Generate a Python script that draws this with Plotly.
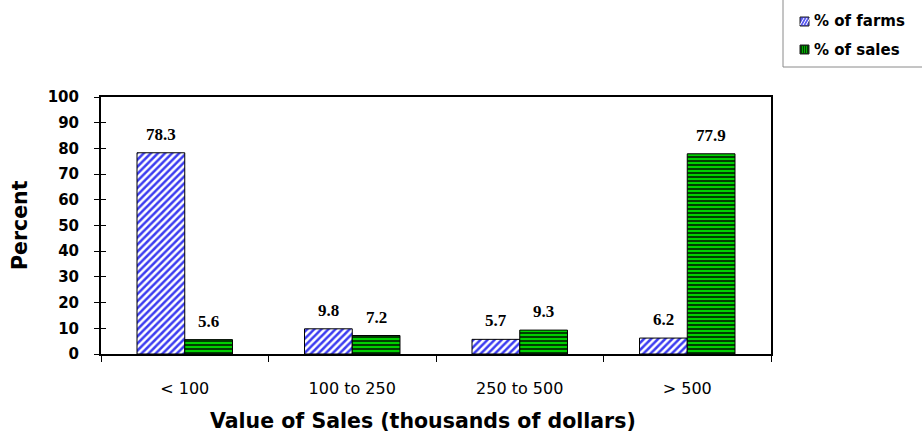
import plotly.graph_objects as go

# Farm size classes by value of sales
categories = ["< 100", "100 to 250", "250 to 500", "> 500"]
pct_farms = [78.3, 9.8, 5.7, 6.2]
pct_sales = [5.6, 7.2, 9.3, 77.9]
series_names = ["% of farms", "% of sales"]
y_ticks = [0, 10, 20, 30, 40, 50, 60, 70, 80, 90, 100]

BAR_GAP = 0.43
bar_w = (1 - BAR_GAP) / 2

# plot box in pixels (page is 922 x 440)
L, R, T, B = 101, 771, 97, 354
W_PLOT, H_PLOT = R - L, B - T


def px_x(px):
    return (px - L) / W_PLOT


def px_y(py):
    return (B - py) / H_PLOT


AXIS_FONT = "DejaVu Sans, Verdana, sans-serif"
LABEL_FONT = "Liberation Serif, Times New Roman, serif"

BLUE = "#3c3cf0"
GREEN_LIGHT = "#00e000"
GREEN_DARK = "#013d01"

fig = go.Figure()

fig.add_trace(go.Bar(
    name=series_names[0], x=categories, y=pct_farms, showlegend=False,
    marker=dict(
        color=BLUE,
        line=dict(color="black", width=1),
        pattern=dict(shape="/", fgcolor=BLUE, bgcolor="white",
                     size=5, solidity=0.5, fillmode="replace"),
    ),
))
fig.add_trace(go.Bar(
    name=series_names[1], x=categories, y=pct_sales, showlegend=False,
    marker=dict(
        color=GREEN_LIGHT,
        line=dict(color="black", width=1),
        pattern=dict(shape="-", fgcolor=GREEN_LIGHT, bgcolor=GREEN_DARK,
                     size=4, solidity=0.45, fillmode="replace"),
    ),
))

# value labels above each bar
for i, (f, s) in enumerate(zip(pct_farms, pct_sales)):
    for val, off in ((f, -bar_w / 2), (s, bar_w / 2)):
        fig.add_annotation(
            x=i + off, y=val, xref="x", yref="y", text=f"{val:.1f}",
            showarrow=False, yanchor="bottom", yshift=7,
            font=dict(family=LABEL_FONT, size=17, color="black", weight="bold"),
        )

# ---- legend box (frame runs off the top/right page edge) ----
fig.add_shape(type="rect", xref="paper", yref="paper",
              x0=px_x(783), x1=px_x(940), y0=px_y(67), y1=px_y(-20),
              line=dict(color="#8a8a8a", width=1), fillcolor="rgba(0,0,0,0)")

# swatch: hatched blue
sw_x0, sw_x1 = 800, 809
fig.add_shape(type="rect", xref="paper", yref="paper",
              x0=px_x(sw_x0), x1=px_x(sw_x1), y0=px_y(26), y1=px_y(17),
              line=dict(color="#202020", width=1), fillcolor="#5a5af2")
for d in (2, 5, 8):
    fig.add_shape(type="line", xref="paper", yref="paper",
                  x0=px_x(sw_x0 + d - 2), y0=px_y(25), x1=px_x(sw_x0 + d + 2), y1=px_y(18),
                  line=dict(color="white", width=1))

# swatch: dark green with bright stripes
fig.add_shape(type="rect", xref="paper", yref="paper",
              x0=px_x(sw_x0), x1=px_x(sw_x1), y0=px_y(54), y1=px_y(45),
              line=dict(color="#202020", width=1), fillcolor=GREEN_DARK)
for d in (2.5, 4.5, 6.5):
    fig.add_shape(type="line", xref="paper", yref="paper",
                  x0=px_x(sw_x0 + d), y0=px_y(53), x1=px_x(sw_x0 + d), y1=px_y(46),
                  line=dict(color="#00b000", width=1))

for name, yc in zip(series_names, (21.5, 49.5)):
    fig.add_annotation(x=px_x(812), y=px_y(yc), xref="paper", yref="paper",
                       text=name, showarrow=False, xanchor="left", yanchor="middle",
                       font=dict(family=AXIS_FONT, size=15, color="black", weight="bold"))

# axis titles
fig.add_annotation(x=px_x(423), y=px_y(421), xref="paper", yref="paper",
                   text="Value of Sales (thousands of dollars)", showarrow=False,
                   xanchor="center", yanchor="middle",
                   font=dict(family=AXIS_FONT, size=20.5, color="black", weight="bold"))
fig.add_annotation(x=px_x(20), y=px_y(225), xref="paper", yref="paper",
                   text="Percent", showarrow=False, textangle=-90,
                   xanchor="center", yanchor="middle",
                   font=dict(family=AXIS_FONT, size=20.5, color="black", weight="bold"))

fig.update_layout(
    width=922, height=440,
    margin=dict(l=L, r=922 - R, t=T, b=440 - B, autoexpand=False),
    paper_bgcolor="white", plot_bgcolor="white",
    barmode="group", bargap=BAR_GAP, bargroupgap=0,
    showlegend=False,
    xaxis=dict(
        type="category", range=[-0.5, 3.5],
        showline=True, linecolor="black", linewidth=2, mirror=True,
        ticks="outside", tickson="boundaries", ticklen=6, tickcolor="black", tickwidth=1,
        ticklabelstandoff=19,
        tickfont=dict(family=AXIS_FONT, size=16, color="black"),
        showgrid=False,
    ),
    yaxis=dict(
        range=[0, 100], tickvals=y_ticks,
        showline=True, linecolor="black", linewidth=2, mirror=True,
        ticks="outside", ticklen=5, tickcolor="black", tickwidth=1,
        ticklabelstandoff=12,
        tickfont=dict(family=AXIS_FONT, size=15, color="black", weight="bold"),
        showgrid=False, zeroline=False,
    ),
    # inner half of the crossing y ticks
    yaxis2=dict(
        range=[0, 100], tickvals=y_ticks, overlaying="y", side="left",
        ticks="inside", ticklen=5, tickcolor="black", tickwidth=1,
        showticklabels=False, showgrid=False, zeroline=False, showline=False,
    ),
)

# invisible trace so the overlay axis is drawn
fig.add_trace(go.Scatter(x=[categories[0]], y=[0], yaxis="y2", mode="markers",
                         marker=dict(opacity=0), showlegend=False, hoverinfo="skip"))

fig.write_html("out.html")
